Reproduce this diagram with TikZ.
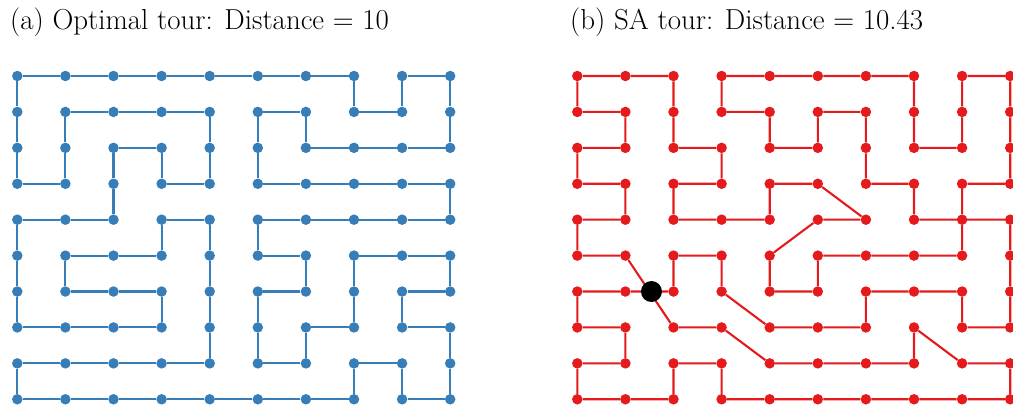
\documentclass[tikz,border=0pt]{standalone}
\usetikzlibrary{calc}
\definecolor{tourblue}{RGB}{55,126,184}
\definecolor{tourred}{RGB}{228,26,28}
\tikzset{
  bdot/.style={circle, fill=tourblue, inner sep=0pt, minimum size=10.5bp},
  rdot/.style={circle, fill=tourred, inner sep=0pt, minimum size=10.5bp},
  bluetour/.style={draw=tourblue, line width=2.1bp, line join=round},
  redtour/.style={draw=tourred, line width=2.1bp, line join=round},
  crossdot/.style={circle, fill=black, inner sep=0pt, minimum size=21bp},
  caption/.style={anchor=base west, inner sep=0pt, font=\fontsize{29}{34}\selectfont}
}
\begin{document}
\begin{tikzpicture}[x=1bp, y=-1bp]
\useasboundingbox (0,0) rectangle (1013,408);

% grid of cities for both panels
\foreach \c in {0,...,9} {
  \foreach \r in {0,...,9} {
    \node[bdot] (L\c\r) at ({17.3+48.1*\c},{76+35.92*\r}) {};
    \node[rdot] (R\c\r) at ({577.3+48.1*\c},{76+35.92*\r}) {};
  }
}

% optimal tour
\draw[bluetour] (L00) -- (L10) -- (L20) -- (L30) -- (L40) -- (L50) -- (L60) -- (L70)
  -- (L71) -- (L81) -- (L80) -- (L90) -- (L91) -- (L92) -- (L82) -- (L72) -- (L62)
  -- (L61) -- (L51) -- (L52) -- (L53) -- (L63) -- (L73) -- (L83) -- (L93) -- (L94)
  -- (L84) -- (L74) -- (L64) -- (L54) -- (L55) -- (L65) -- (L66) -- (L56) -- (L57)
  -- (L58) -- (L68) -- (L67) -- (L77) -- (L76) -- (L75) -- (L85) -- (L95) -- (L96)
  -- (L86) -- (L87) -- (L97) -- (L98) -- (L99) -- (L89) -- (L88) -- (L78) -- (L79)
  -- (L69) -- (L59) -- (L49) -- (L39) -- (L29) -- (L19) -- (L09) -- (L08) -- (L18)
  -- (L28) -- (L38) -- (L48) -- (L47) -- (L46) -- (L45) -- (L44) -- (L34) -- (L35)
  -- (L25) -- (L15) -- (L16) -- (L26) -- (L36) -- (L37) -- (L27) -- (L17) -- (L07)
  -- (L06) -- (L05) -- (L04) -- (L14) -- (L24) -- (L23) -- (L22) -- (L32) -- (L33)
  -- (L43) -- (L42) -- (L41) -- (L31) -- (L21) -- (L11) -- (L12) -- (L13) -- (L03)
  -- (L02) -- (L01) -- (L00);

% annealed tour
\draw[redtour] (R00) -- (R10) -- (R20) -- (R21) -- (R22) -- (R32) -- (R33) -- (R23)
  -- (R24) -- (R34) -- (R44) -- (R43) -- (R53) -- (R64) -- (R54) -- (R45) -- (R46)
  -- (R56) -- (R55) -- (R65) -- (R75) -- (R85) -- (R84) -- (R83) -- (R93) -- (R92)
  -- (R91) -- (R90) -- (R80) -- (R81) -- (R82) -- (R72) -- (R71) -- (R70) -- (R60)
  -- (R50) -- (R40) -- (R30) -- (R31) -- (R41) -- (R42) -- (R52) -- (R51) -- (R61)
  -- (R62) -- (R63) -- (R73) -- (R74) -- (R94) -- (R95) -- (R96) -- (R97) -- (R87)
  -- (R86) -- (R76) -- (R66) -- (R67) -- (R57) -- (R47) -- (R36) -- (R35) -- (R25)
  -- (R26) -- (R16) -- (R06) -- (R07) -- (R17) -- (R18) -- (R08) -- (R09) -- (R19)
  -- (R29) -- (R28) -- (R38) -- (R39) -- (R49) -- (R59) -- (R69) -- (R79) -- (R89)
  -- (R99) -- (R98) -- (R88) -- (R77) -- (R78) -- (R68) -- (R58) -- (R48) -- (R37)
  -- (R27) -- (R15) -- (R05) -- (R04) -- (R14) -- (R13) -- (R03) -- (R02) -- (R12)
  -- (R11) -- (R01) -- (R00);

% crossing of the tour
\node[crossdot, xshift=2bp] (X) at ($(R16)!0.5!(R26)$) {};

% captions
\node[caption] (ta) at (10,29.5) {(a) Optimal tour: Distance = 10};
\node[caption] (tb) at (570,29.5) {(b) SA tour: Distance = 10.43};
\end{tikzpicture}
\end{document}
